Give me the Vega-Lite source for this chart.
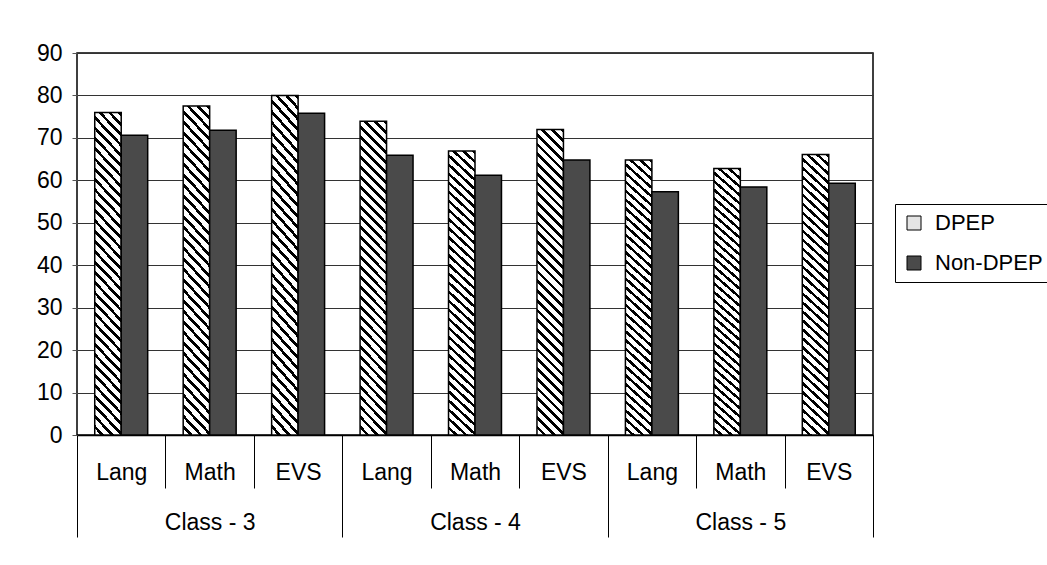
{
  "$schema": "https://vega.github.io/schema/vega-lite/v6.json",
  "width": 796,
  "height": 382,
  "autosize": {"type": "none"},
  "padding": {"left": 77, "top": 53, "right": 174, "bottom": 130},
  "background": "white",
  "config": {
    "view": {"stroke": "black", "strokeWidth": 1.5},
    "font": "Liberation Sans",
    "axis": {"labelColor": "black", "labelFont": "Liberation Sans", "titleFont": "Liberation Sans"},
    "legend": {
      "orient": "none",
      "legendX": 818,
      "legendY": 151,
      "strokeColor": "black",
      "strokeWidth": 1,
      "padding": 8,
      "labelFontSize": 22,
      "labelFont": "Liberation Sans",
      "labelColor": "black",
      "symbolType": "square",
      "symbolSize": 196,
      "symbolStrokeColor": "black",
      "symbolStrokeWidth": 1,
      "symbolOpacity": 1,
      "rowPadding": 18,
      "labelOffset": 10
    }
  },
  "data": {
    "values": [
      {"cls": "Class - 3", "subject": "Lang", "key": "Class - 3|Lang", "series": "DPEP", "value": 76.0},
      {"cls": "Class - 3", "subject": "Lang", "key": "Class - 3|Lang", "series": "Non-DPEP", "value": 70.6},
      {"cls": "Class - 3", "subject": "Math", "key": "Class - 3|Math", "series": "DPEP", "value": 77.5},
      {"cls": "Class - 3", "subject": "Math", "key": "Class - 3|Math", "series": "Non-DPEP", "value": 71.8},
      {"cls": "Class - 3", "subject": "EVS", "key": "Class - 3|EVS", "series": "DPEP", "value": 80.0},
      {"cls": "Class - 3", "subject": "EVS", "key": "Class - 3|EVS", "series": "Non-DPEP", "value": 75.8},
      {"cls": "Class - 4", "subject": "Lang", "key": "Class - 4|Lang", "series": "DPEP", "value": 73.9},
      {"cls": "Class - 4", "subject": "Lang", "key": "Class - 4|Lang", "series": "Non-DPEP", "value": 65.9},
      {"cls": "Class - 4", "subject": "Math", "key": "Class - 4|Math", "series": "DPEP", "value": 66.9},
      {"cls": "Class - 4", "subject": "Math", "key": "Class - 4|Math", "series": "Non-DPEP", "value": 61.2},
      {"cls": "Class - 4", "subject": "EVS", "key": "Class - 4|EVS", "series": "DPEP", "value": 72.0},
      {"cls": "Class - 4", "subject": "EVS", "key": "Class - 4|EVS", "series": "Non-DPEP", "value": 64.8},
      {"cls": "Class - 5", "subject": "Lang", "key": "Class - 5|Lang", "series": "DPEP", "value": 64.8},
      {"cls": "Class - 5", "subject": "Lang", "key": "Class - 5|Lang", "series": "Non-DPEP", "value": 57.3},
      {"cls": "Class - 5", "subject": "Math", "key": "Class - 5|Math", "series": "DPEP", "value": 62.8},
      {"cls": "Class - 5", "subject": "Math", "key": "Class - 5|Math", "series": "Non-DPEP", "value": 58.4},
      {"cls": "Class - 5", "subject": "EVS", "key": "Class - 5|EVS", "series": "DPEP", "value": 66.1},
      {"cls": "Class - 5", "subject": "EVS", "key": "Class - 5|EVS", "series": "Non-DPEP", "value": 59.3}
    ]
  },
  "layer": [
    {
      "encoding": {
        "x": {
          "field": "key",
          "type": "nominal",
          "sort": null,
          "scale": {"paddingInner": 0, "paddingOuter": 0},
          "axis": {
            "title": null,
            "labelExpr": "split(datum.label, '|')[1]",
            "labelAngle": 0,
            "labelFontSize": 23,
            "labelBaseline": "middle",
            "labelPadding": -16,
            "tickBand": "extent",
            "tickSize": 53,
            "tickColor": "black",
            "tickWidth": 1,
            "domainColor": "black",
            "domainWidth": 1.5,
            "grid": false
          }
        },
        "xOffset": {
          "field": "series",
          "type": "nominal",
          "scale": {"domain": ["DPEP", "Non-DPEP"], "paddingInner": 0, "paddingOuter": 0.67}
        },
        "y": {
          "field": "value",
          "type": "quantitative",
          "scale": {"domain": [0, 90], "nice": false},
          "axis": {
            "title": null,
            "values": [0, 10, 20, 30, 40, 50, 60, 70, 80, 90],
            "labelFontSize": 23,
            "labelPadding": 10,
            "tickSize": 5,
            "tickColor": "#555",
            "domain": false,
            "grid": true,
            "gridColor": "#333",
            "gridWidth": 1
          }
        }
      },
      "layer": [
        {
          "transform": [{"filter": "datum.series === 'DPEP'"}],
          "mark": {
            "type": "bar",
            "stroke": "black",
            "strokeWidth": 1.5,
            "fill": {
              "gradient": "linear",
              "x1": 0, "y1": 1, "x2": 0.0934, "y2": -0.0783,
              "stops": [
                {"offset": 0.0, "color": "white"}, {"offset": 0.0182, "color": "white"}, {"offset": 0.0182, "color": "black"}, {"offset": 0.0294, "color": "black"},
                {"offset": 0.0294, "color": "white"}, {"offset": 0.0476, "color": "white"}, {"offset": 0.0476, "color": "black"}, {"offset": 0.0588, "color": "black"},
                {"offset": 0.0588, "color": "white"}, {"offset": 0.0771, "color": "white"}, {"offset": 0.0771, "color": "black"}, {"offset": 0.0882, "color": "black"},
                {"offset": 0.0882, "color": "white"}, {"offset": 0.1065, "color": "white"}, {"offset": 0.1065, "color": "black"}, {"offset": 0.1176, "color": "black"},
                {"offset": 0.1176, "color": "white"}, {"offset": 0.1359, "color": "white"}, {"offset": 0.1359, "color": "black"}, {"offset": 0.1471, "color": "black"},
                {"offset": 0.1471, "color": "white"}, {"offset": 0.1653, "color": "white"}, {"offset": 0.1653, "color": "black"}, {"offset": 0.1765, "color": "black"},
                {"offset": 0.1765, "color": "white"}, {"offset": 0.1947, "color": "white"}, {"offset": 0.1947, "color": "black"}, {"offset": 0.2059, "color": "black"},
                {"offset": 0.2059, "color": "white"}, {"offset": 0.2241, "color": "white"}, {"offset": 0.2241, "color": "black"}, {"offset": 0.2353, "color": "black"},
                {"offset": 0.2353, "color": "white"}, {"offset": 0.2535, "color": "white"}, {"offset": 0.2535, "color": "black"}, {"offset": 0.2647, "color": "black"},
                {"offset": 0.2647, "color": "white"}, {"offset": 0.2829, "color": "white"}, {"offset": 0.2829, "color": "black"}, {"offset": 0.2941, "color": "black"},
                {"offset": 0.2941, "color": "white"}, {"offset": 0.3124, "color": "white"}, {"offset": 0.3124, "color": "black"}, {"offset": 0.3235, "color": "black"},
                {"offset": 0.3235, "color": "white"}, {"offset": 0.3418, "color": "white"}, {"offset": 0.3418, "color": "black"}, {"offset": 0.3529, "color": "black"},
                {"offset": 0.3529, "color": "white"}, {"offset": 0.3712, "color": "white"}, {"offset": 0.3712, "color": "black"}, {"offset": 0.3824, "color": "black"},
                {"offset": 0.3824, "color": "white"}, {"offset": 0.4006, "color": "white"}, {"offset": 0.4006, "color": "black"}, {"offset": 0.4118, "color": "black"},
                {"offset": 0.4118, "color": "white"}, {"offset": 0.4300, "color": "white"}, {"offset": 0.4300, "color": "black"}, {"offset": 0.4412, "color": "black"},
                {"offset": 0.4412, "color": "white"}, {"offset": 0.4594, "color": "white"}, {"offset": 0.4594, "color": "black"}, {"offset": 0.4706, "color": "black"},
                {"offset": 0.4706, "color": "white"}, {"offset": 0.4888, "color": "white"}, {"offset": 0.4888, "color": "black"}, {"offset": 0.5000, "color": "black"},
                {"offset": 0.5000, "color": "white"}, {"offset": 0.5182, "color": "white"}, {"offset": 0.5182, "color": "black"}, {"offset": 0.5294, "color": "black"},
                {"offset": 0.5294, "color": "white"}, {"offset": 0.5477, "color": "white"}, {"offset": 0.5477, "color": "black"}, {"offset": 0.5588, "color": "black"},
                {"offset": 0.5588, "color": "white"}, {"offset": 0.5771, "color": "white"}, {"offset": 0.5771, "color": "black"}, {"offset": 0.5882, "color": "black"},
                {"offset": 0.5882, "color": "white"}, {"offset": 0.6065, "color": "white"}, {"offset": 0.6065, "color": "black"}, {"offset": 0.6176, "color": "black"},
                {"offset": 0.6176, "color": "white"}, {"offset": 0.6359, "color": "white"}, {"offset": 0.6359, "color": "black"}, {"offset": 0.6471, "color": "black"},
                {"offset": 0.6471, "color": "white"}, {"offset": 0.6653, "color": "white"}, {"offset": 0.6653, "color": "black"}, {"offset": 0.6765, "color": "black"},
                {"offset": 0.6765, "color": "white"}, {"offset": 0.6947, "color": "white"}, {"offset": 0.6947, "color": "black"}, {"offset": 0.7059, "color": "black"},
                {"offset": 0.7059, "color": "white"}, {"offset": 0.7241, "color": "white"}, {"offset": 0.7241, "color": "black"}, {"offset": 0.7353, "color": "black"},
                {"offset": 0.7353, "color": "white"}, {"offset": 0.7535, "color": "white"}, {"offset": 0.7535, "color": "black"}, {"offset": 0.7647, "color": "black"},
                {"offset": 0.7647, "color": "white"}, {"offset": 0.7829, "color": "white"}, {"offset": 0.7829, "color": "black"}, {"offset": 0.7941, "color": "black"},
                {"offset": 0.7941, "color": "white"}, {"offset": 0.8124, "color": "white"}, {"offset": 0.8124, "color": "black"}, {"offset": 0.8235, "color": "black"},
                {"offset": 0.8235, "color": "white"}, {"offset": 0.8418, "color": "white"}, {"offset": 0.8418, "color": "black"}, {"offset": 0.8529, "color": "black"},
                {"offset": 0.8529, "color": "white"}, {"offset": 0.8712, "color": "white"}, {"offset": 0.8712, "color": "black"}, {"offset": 0.8824, "color": "black"},
                {"offset": 0.8824, "color": "white"}, {"offset": 0.9006, "color": "white"}, {"offset": 0.9006, "color": "black"}, {"offset": 0.9118, "color": "black"},
                {"offset": 0.9118, "color": "white"}, {"offset": 0.9300, "color": "white"}, {"offset": 0.9300, "color": "black"}, {"offset": 0.9412, "color": "black"},
                {"offset": 0.9412, "color": "white"}, {"offset": 0.9594, "color": "white"}, {"offset": 0.9594, "color": "black"}, {"offset": 0.9706, "color": "black"},
                {"offset": 0.9706, "color": "white"}, {"offset": 0.9888, "color": "white"}, {"offset": 0.9888, "color": "black"}, {"offset": 1.0, "color": "black"}
              ]
            }
          }
        },
        {
          "transform": [{"filter": "datum.series === 'Non-DPEP'"}],
          "mark": {"type": "bar", "stroke": "black", "strokeWidth": 1.5, "fill": "#4a4a4a"}
        }
      ]
    },
    {
      "mark": {"type": "point", "opacity": 0, "filled": true},
      "encoding": {
        "x": {
          "field": "cls",
          "type": "nominal",
          "sort": null,
          "scale": {"paddingInner": 0, "paddingOuter": 0},
          "axis": {
            "orient": "bottom",
            "title": null,
            "labelAngle": 0,
            "labelFontSize": 23,
            "labelBaseline": "middle",
            "labelPadding": -15,
            "tickBand": "extent",
            "tickSize": 102,
            "tickColor": "black",
            "tickWidth": 1,
            "domain": false,
            "grid": false
          }
        },
        "fill": {
          "field": "series",
          "type": "nominal",
          "scale": {"domain": ["DPEP", "Non-DPEP"], "range": ["#e4e4e4", "#4a4a4a"]},
          "legend": {"title": null, "symbolOpacity": 1}
        }
      }
    }
  ],
  "resolve": {"scale": {"x": "independent"}, "axis": {"x": "independent"}}
}
